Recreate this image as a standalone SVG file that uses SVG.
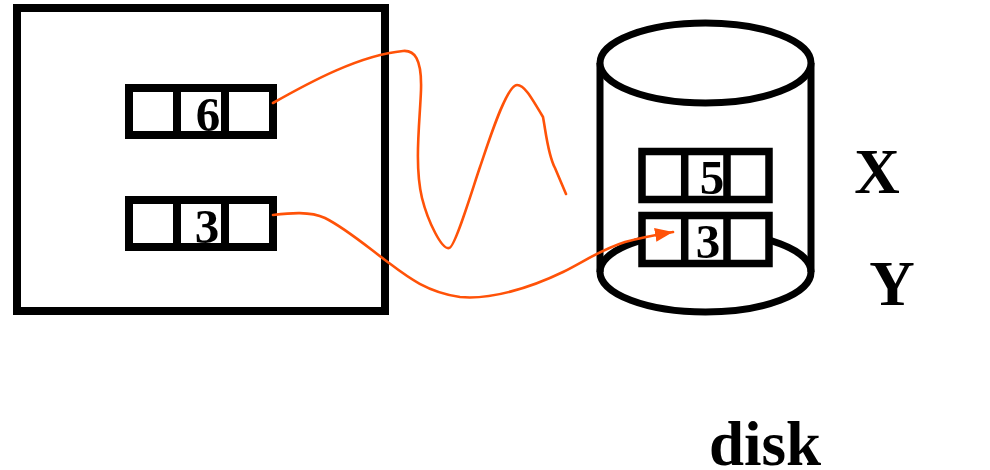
<svg xmlns="http://www.w3.org/2000/svg" width="990" height="470" viewBox="0 0 990 470">
<style>
.box{fill:#fff;stroke:#000;stroke-width:8}
.reg{fill:#fff;stroke:#000;stroke-width:8}
.dreg{fill:#fff;stroke:#000;stroke-width:7.5}
.disk{fill:#fff;stroke:#000;stroke-width:7}
.dig{font-family:"Liberation Serif","Times New Roman",serif;font-weight:bold;font-size:49px;text-anchor:middle;fill:#000}
.lbl{font-family:"Liberation Serif","Times New Roman",serif;font-weight:bold;font-size:63px;text-anchor:middle;fill:#000}
.wire{fill:none;stroke:#FF5208;stroke-width:2.6;stroke-linecap:round;stroke-linejoin:round}
</style>
<defs>
<marker id="ah" markerUnits="userSpaceOnUse" markerWidth="20" markerHeight="16" refX="18" refY="7" orient="auto">
<path d="M0,0 L18,7 L0,14 Z" fill="#FF5208"/>
</marker>
</defs>
<g id="memory">
<rect class="box" x="17" y="8" width="368" height="303"/>
</g>
<g id="reg6">
<rect class="reg" x="129" y="88" width="144" height="47"/>
<text class="dig" x="208" y="130.5">6</text>
<line x1="177" y1="88" x2="177" y2="135" stroke="#000" stroke-width="8"/>
<line x1="225" y1="88" x2="225" y2="135" stroke="#000" stroke-width="8"/>
</g>
<g id="reg3">
<rect class="reg" x="129" y="200" width="144" height="47"/>
<text class="dig" x="207" y="242.5">3</text>
<line x1="177" y1="200" x2="177" y2="247" stroke="#000" stroke-width="8"/>
<line x1="225" y1="200" x2="225" y2="247" stroke="#000" stroke-width="8"/>
</g>
<g id="disk">
<ellipse class="disk" cx="705.5" cy="272" rx="105.5" ry="40"/>
<line x1="600" y1="63" x2="600" y2="272" stroke="#000" stroke-width="7"/>
<line x1="811" y1="63" x2="811" y2="272" stroke="#000" stroke-width="7"/>
<ellipse class="disk" cx="705.5" cy="63" rx="105.5" ry="40"/>
<text class="lbl" x="765" y="465">disk</text>
</g>
<g id="regX">
<rect class="dreg" x="642" y="151.5" width="127" height="48"/>
<text class="dig" x="712" y="194">5</text>
<line x1="684.7" y1="151.5" x2="684.7" y2="199.5" stroke="#000" stroke-width="7.5"/>
<line x1="727" y1="151.5" x2="727" y2="199.5" stroke="#000" stroke-width="7.5"/>
<text class="lbl" x="877" y="193">X</text>
</g>
<g id="regY">
<rect class="dreg" x="642" y="215.5" width="127" height="48"/>
<text class="dig" x="708" y="258">3</text>
<line x1="684.7" y1="215.5" x2="684.7" y2="263.5" stroke="#000" stroke-width="7.5"/>
<line x1="727" y1="215.5" x2="727" y2="263.5" stroke="#000" stroke-width="7.5"/>
<text class="lbl" x="892" y="305">Y</text>
</g>
<g id="connectors">
<path class="wire" d="M273,103 C310,82 360,55 403,51 C414,50 422,58 421,90 C420,120 414,165 422,198 C428,222 442,250 449,248 C455,248 473,187 480,167 C487,147 506,85 517,85 C524,85 530,95 543,117 C546,133 548,155 555,168 L566,194"/>
<path class="wire" marker-end="url(#ah)" d="M273,215 C290,213 310,211 325,218 C345,228 365,245 385,260 C405,275 425,292 460,297 C490,300 530,288 563,272 C585,261 600,250 625,242 C640,238 655,235 673,232"/>
</g>
</svg>
